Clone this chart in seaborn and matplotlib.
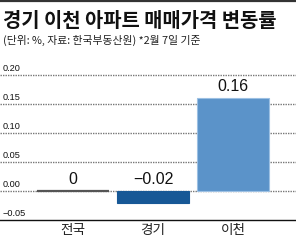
import matplotlib
matplotlib.use("Agg")
import matplotlib.pyplot as plt
import matplotlib.transforms as mtransforms
from matplotlib.lines import Line2D
import seaborn as sns
import pandas as pd

# ---- data ----
categories = ["전국", "경기", "이천"]
values = [0.0, -0.02, 0.16]
value_labels = ["0", "\u22120.02", "0.16"]
y_ticks = [0.20, 0.15, 0.10, 0.05, 0.00, -0.05]
y_tick_labels = ["0.20", "0.15", "0.10", "0.05", "0.00", "\u22120.05"]
title = "경기 이천 아파트 매매가격 변동률"
subtitle = "(단위: %, 자료: 한국부동산원) *2월 7일 기준"

sns.set_theme(style="white")
plt.rcParams["font.family"] = ["Liberation Sans", "Noto Sans CJK KR", "DejaVu Sans"]
plt.rcParams["axes.unicode_minus"] = True

bar_colors = ["#555555", "#175896", "#5b93c9"]
edge_colors = ["#555555", "#175896", "#9cc0e3"]

fig = plt.figure(figsize=(2.96, 2.40), dpi=100)
fig.patch.set_facecolor("white")
ax = fig.add_axes([0.0, 20 / 240, 1.0, (220 - 62) / 240])

df = pd.DataFrame({"cat": categories, "val": values})
sns.barplot(data=df, x="cat", y="val", hue="cat", palette=bar_colors,
            legend=False, width=0.9, ax=ax, saturation=1)
for p, ec, v in zip(ax.patches, edge_colors, values):
    p.set_edgecolor(ec)
    p.set_linewidth(1.6 if v == 0 else 0.8)
    p.set_zorder(3)

ax.set_xlim(-0.9125, 2.7875)
ax.set_ylim(-0.05, 0.2224)

# gridlines
for t in y_ticks:
    if t > -0.05:
        ax.axhline(t, color="#777777", linestyle=(0, (1, 0.8)), linewidth=1.0, zorder=1)

# y tick labels inside, sitting on gridlines
trans = mtransforms.blended_transform_factory(ax.transAxes, ax.transData)
for t, lab in zip(y_ticks, y_tick_labels):
    ax.annotate(lab, xy=(0, t), xycoords=trans, xytext=(2, 1.2), textcoords="offset points",
                ha="left", va="bottom", fontsize=6.6, color="#111111",
                family=["Liberation Sans", "DejaVu Sans"])

# value labels
for i, (v, lab) in enumerate(zip(values, value_labels)):
    ax.annotate(lab, xy=(i, max(v, 0)), xytext=(0, 3), textcoords="offset points",
                ha="center", va="bottom", fontsize=11.5, color="#111111",
                family=["Liberation Sans", "DejaVu Sans"])

ax.set_yticks([])
ax.set_xlabel("")
ax.set_ylabel("")
ax.tick_params(axis="x", length=0, pad=2.5, labelsize=9.8, colors="#222222")
for lab in ax.get_xticklabels():
    lab.set_family(["Noto Sans CJK KR", "DejaVu Sans"])
for s in ["top", "left", "right"]:
    ax.spines[s].set_visible(False)
ax.spines["bottom"].set_color("#111111")
ax.spines["bottom"].set_linewidth(1.0)
ax.set_facecolor("white")

# top rule
fig.add_artist(Line2D([0, 1], [1 - 1 / 240, 1 - 1 / 240], transform=fig.transFigure,
                      color="#333333", linewidth=1.6))

fig.text(3 / 296, 1 - 27 / 240, title, fontsize=14.3, fontweight="bold", color="#111111",
         ha="left", va="baseline", family=["Noto Sans CJK KR", "DejaVu Sans"])
fig.text(3 / 296, 1 - 44 / 240, subtitle, fontsize=7.8, color="#222222",
         ha="left", va="baseline", family=["Noto Sans CJK KR", "DejaVu Sans"])

fig.savefig("out.png", dpi=100, facecolor="white")
